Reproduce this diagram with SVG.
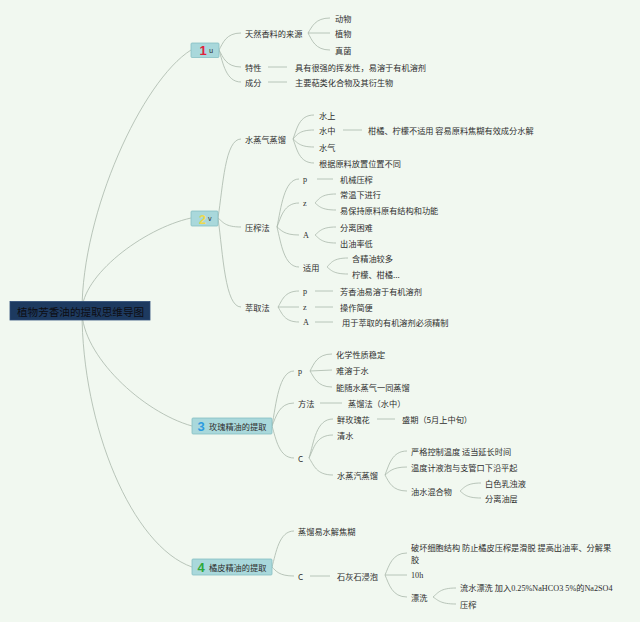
<svg xmlns="http://www.w3.org/2000/svg" width="640" height="622" viewBox="0 0 640 622">
<style>
text{font-family:"Noto Sans CJK SC","Liberation Sans",sans-serif;font-size:8.2px;fill:#2e2e2e;dominant-baseline:central}
.s{font-family:"Liberation Serif","Noto Sans CJK SC",serif}
.box{fill:#a9d8db;stroke:#86bfc3;stroke-width:0.8}
.num{font-family:"Liberation Sans","Noto Sans CJK SC",sans-serif;font-weight:bold;font-size:13px}
.lbl{font-size:8.2px}
#connectors path,#connectors line{fill:none;stroke:#a9b7ab;stroke-width:0.8}
</style>
<rect width="640" height="622" fill="#f1f8f0"/>
<g id="connectors">
<path d="M82,311 C82,212 142,81 191,50"/>
<path d="M82,311 C82,276 142,229 191,218"/>
<path d="M82,311 C82,355 142,412 192,426"/>
<path d="M82,311 C82,426 132,546 192,567"/>
<path d="M219,50 C223,43 226,33 241,33"/>
<path d="M219,50 C223,57 226,67 241,67"/>
<path d="M219,50 C223,63 226,82 241,82"/>
<path d="M308,33 C312,27 315,18 330,18"/>
<path d="M308,33 L330,33"/>
<path d="M308,33 C312,40 315,50 330,50"/>
<line x1="268" y1="67" x2="287" y2="67"/>
<line x1="268" y1="82" x2="287" y2="82"/>
<path d="M218,218 C223,186 225,139 241,139"/>
<path d="M218,218 C223,222 225,227 241,227"/>
<path d="M218,218 C223,254 225,307 241,307"/>
<path d="M293,139 C297,129 299,115 314,115"/>
<path d="M293,139 C297,135 299,130 314,130"/>
<path d="M293,139 C297,142 299,147 314,147"/>
<path d="M293,139 C297,149 299,163 314,163"/>
<line x1="343" y1="130" x2="362" y2="130"/>
<path d="M277,227 C281,208 284,179 299,179"/>
<path d="M277,227 C281,217 284,203 299,203"/>
<path d="M277,227 C281,230 284,235 299,235"/>
<path d="M277,227 C281,243 284,267 299,267"/>
<line x1="317" y1="179" x2="333" y2="179"/>
<path d="M315,203 C319,199 321,194 336,194"/>
<path d="M315,203 C319,206 321,210 336,210"/>
<path d="M315,235 C319,232 321,227 336,227"/>
<path d="M315,235 C319,238 321,243 336,243"/>
<path d="M327,267 C331,263 333,258 348,258"/>
<path d="M327,267 C331,270 333,274 348,274"/>
<path d="M278,307 C282,301 284,291 299,291"/>
<path d="M278,307 L299,307"/>
<path d="M278,307 C282,313 284,322 299,322"/>
<line x1="315" y1="291" x2="333" y2="291"/>
<line x1="315" y1="307" x2="333" y2="307"/>
<line x1="315" y1="322" x2="333" y2="322"/>
<path d="M272,426 C276,404 279,371 294,371"/>
<path d="M272,426 C276,417 279,403 294,403"/>
<path d="M272,426 C276,439 279,458 294,458"/>
<path d="M310,371 C314,364 317,354 332,354"/>
<path d="M310,371 L332,370"/>
<path d="M310,371 C314,377 317,387 332,387"/>
<line x1="320" y1="403" x2="342" y2="403"/>
<path d="M309,458 C314,442 316,419 333,419"/>
<path d="M309,458 C314,448 316,435 333,435"/>
<path d="M309,458 C314,465 316,475 333,475"/>
<line x1="377" y1="419" x2="395" y2="419"/>
<path d="M385,475 C389,465 392,451 407,451"/>
<path d="M385,475 C389,472 392,467 407,467"/>
<path d="M385,475 C389,482 392,491 407,491"/>
<path d="M460,491 C464,488 466,483 481,483"/>
<path d="M460,491 C464,494 466,498 481,498"/>
<path d="M272,567 C276,553 279,531 294,531"/>
<path d="M272,567 C276,571 279,576 294,576"/>
<line x1="310" y1="576" x2="330" y2="576"/>
<path d="M385,575 C389,566 392,553 407,553"/>
<path d="M385,575 L407,575"/>
<path d="M385,575 C389,584 392,597 407,597"/>
<path d="M433,597 C438,593 440,588 456,588"/>
<path d="M433,597 C438,600 440,604 456,604"/>
</g>
<g id="root">
<rect x="10" y="301.5" width="140" height="18.5" fill="#1d3a60" stroke="#2e4d78" stroke-width="0.8"/>
<text x="17" y="311" style="font-size:10.6px;fill:#0d0d12">植物芳香油的提取思维导图</text>
</g>
<g id="n1">
<rect class="box" x="191" y="43" width="28" height="14.5" rx="1"/>
<text class="num" x="199.5" y="50.5" style="fill:#e0213c">1</text>
<text x="209" y="50" style="font-size:7px">u</text>
</g>
<g id="n1a"><text x="245" y="33">天然香料的来源</text></g>
<g id="n1a1"><text x="335" y="18">动物</text></g>
<g id="n1a2"><text x="335" y="33">植物</text></g>
<g id="n1a3"><text x="335" y="50">真菌</text></g>
<g id="n1b"><text x="245" y="67">特性</text></g>
<g id="n1b1"><text x="295" y="67">具有很强的挥发性，易溶于有机溶剂</text></g>
<g id="n1c"><text x="245" y="82">成分</text></g>
<g id="n1c1"><text x="295" y="82">主要萜类化合物及其衍生物</text></g>
<g id="n2">
<rect class="box" x="191" y="211" width="27" height="15" rx="1"/>
<text class="num" x="199" y="219" style="fill:#ecd94e">2</text>
<text x="208" y="218" style="font-size:7px">v</text>
</g>
<g id="n2a"><text x="245" y="139">水蒸气蒸馏</text></g>
<g id="n2a1"><text x="319" y="115">水上</text></g>
<g id="n2a2"><text x="319" y="130">水中</text></g>
<g id="n2a2a"><text x="368" y="130">柑橘、柠檬不适用 容易原料焦糊有效成分水解</text></g>
<g id="n2a3"><text x="319" y="147">水气</text></g>
<g id="n2a4"><text x="319" y="163">根据原料放置位置不同</text></g>
<g id="n2b"><text x="245" y="227">压榨法</text></g>
<g id="n2b1"><text class="s" x="303" y="179">p</text></g>
<g id="n2b1a"><text x="340" y="179">机械压榨</text></g>
<g id="n2b2"><text class="s" x="303" y="203">z</text></g>
<g id="n2b2a"><text x="340" y="194">常温下进行</text></g>
<g id="n2b2b"><text x="340" y="210">易保持原料原有结构和功能</text></g>
<g id="n2b3"><text class="s" x="303" y="235">A</text></g>
<g id="n2b3a"><text x="340" y="227">分离困难</text></g>
<g id="n2b3b"><text x="340" y="243">出油率低</text></g>
<g id="n2b4"><text x="303" y="267">适用</text></g>
<g id="n2b4a"><text x="352" y="258">含精油较多</text></g>
<g id="n2b4b"><text x="352" y="274">柠檬、柑橘...</text></g>
<g id="n2c"><text x="245" y="307">萃取法</text></g>
<g id="n2c1"><text class="s" x="303" y="291">p</text></g>
<g id="n2c1a"><text x="340" y="291">芳香油易溶于有机溶剂</text></g>
<g id="n2c2"><text class="s" x="303" y="307">z</text></g>
<g id="n2c2a"><text x="340" y="307">操作简便</text></g>
<g id="n2c3"><text class="s" x="303" y="322">A</text></g>
<g id="n2c3a"><text x="342" y="322">用于萃取的有机溶剂必须精制</text></g>
<g id="n3">
<rect class="box" x="192" y="418" width="80" height="16" rx="1"/>
<text class="num" x="197.5" y="426.5" style="fill:#2d9be0">3</text>
<text x="209" y="426">玫瑰精油的提取</text>
</g>
<g id="n3a"><text class="s" x="298" y="371">p</text></g>
<g id="n3a1"><text x="336" y="354">化学性质稳定</text></g>
<g id="n3a2"><text x="336" y="370">难溶于水</text></g>
<g id="n3a3"><text x="336" y="387">能随水蒸气一同蒸馏</text></g>
<g id="n3b"><text x="298" y="403">方法</text></g>
<g id="n3b1"><text x="348" y="403">蒸馏法（水中）</text></g>
<g id="n3c"><text x="298" y="458">C</text></g>
<g id="n3c1"><text x="337" y="419">鲜玫瑰花</text></g>
<g id="n3c1a"><text x="402" y="419">盛期（5月上中旬）</text></g>
<g id="n3c2"><text x="337" y="435">清水</text></g>
<g id="n3c3"><text x="337" y="475">水蒸汽蒸馏</text></g>
<g id="n3c3a"><text x="411" y="451">严格控制温度 适当延长时间</text></g>
<g id="n3c3b"><text x="411" y="467">温度计液泡与支管口下沿平起</text></g>
<g id="n3c3c"><text x="411" y="491">油水混合物</text></g>
<g id="n3c3c1"><text x="485" y="483">白色乳浊液</text></g>
<g id="n3c3c2"><text x="485" y="498">分离油层</text></g>
<g id="n4">
<rect class="box" x="192" y="559" width="80" height="16" rx="1"/>
<text class="num" x="197.5" y="567.5" style="fill:#2ea83a">4</text>
<text x="209" y="567">橘皮精油的提取</text>
</g>
<g id="n4a"><text x="298" y="531">蒸馏易水解焦糊</text></g>
<g id="n4b"><text x="298" y="576">C</text></g>
<g id="n4b1"><text x="337" y="576">石灰石浸泡</text></g>
<g id="n4b1a"><text x="411" y="547">破坏细胞结构 防止橘皮压榨是滑脱 提高出油率、分解果</text><text x="411" y="559">胶</text></g>
<g id="n4b1b"><text class="s" x="411" y="575">10h</text></g>
<g id="n4b1c"><text x="411" y="597">漂洗</text></g>
<g id="n4b1c1"><text class="s" x="460" y="588">流水漂洗 加入0.25%NaHCO3 5%的Na2SO4</text></g>
<g id="n4b1c2"><text x="460" y="604">压榨</text></g>
</svg>
